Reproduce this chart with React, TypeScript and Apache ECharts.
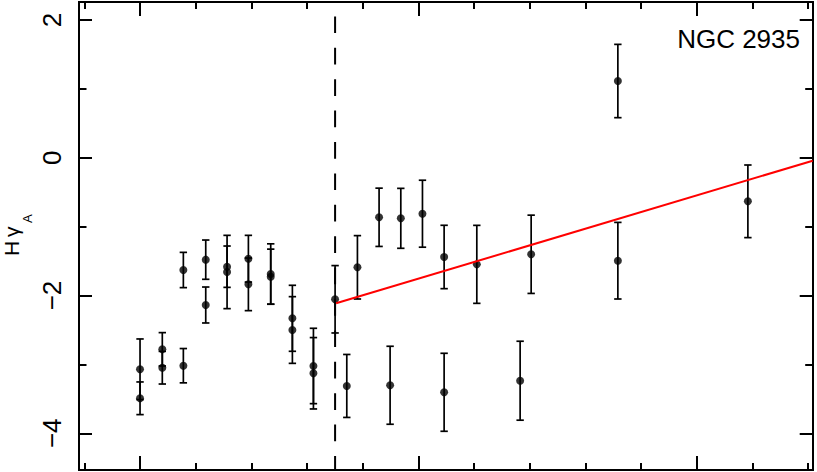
import React, { useEffect, useRef } from "react";
import * as echarts from "echarts";

// x positions (arbitrary radial units; major ticks every 5, minor every 1)
const X_VALUES = [
  0.0, 0.0, 0.4, 0.4, 0.778, 0.778, 1.18, 1.18, 1.563, 1.563, 1.946, 1.946,
  2.347, 2.347, 2.736, 2.736, 3.114, 3.114, 3.503, 3.713, 3.904, 4.293, 4.491,
  4.683, 5.072, 5.461, 5.461, 6.048, 6.826, 7.024, 8.581, 8.581, 10.916,
];
const Y_VALUES = [
  -3.071, -3.492, -2.781, -3.048, -3.019, -1.63, -1.48, -2.138, -1.582, -1.659,
  -1.466, -1.838, -1.688, -1.727, -2.331, -2.501, -3.023, -3.129, -2.055,
  -3.313, -1.591, -0.865, -3.303, -0.88, -0.813, -1.441, -3.405, -1.548,
  -3.237, -1.402, 1.113, -1.495, -0.633,
];
const Y_ERRORS = [
  0.44, 0.237, 0.242, 0.237, 0.249, 0.256, 0.285, 0.261, 0.3, 0.532, 0.339,
  0.382, 0.438, 0.4, 0.479, 0.484, 0.547, 0.518, 0.489, 0.457, 0.46, 0.423,
  0.566, 0.435, 0.486, 0.46, 0.566, 0.566, 0.573, 0.568, 0.532, 0.556, 0.527,
];

const FIT_X = [3.521, 12.08];
const FIT_Y = [-2.113, -0.044];
const DIVIDER_X = 3.503;

const X_MIN = -1.096;
const X_MAX = 12.08;
const Y_MIN = -4.533;
const Y_MAX = 2.26;

const X_MAJOR = [0, 5, 10];
const X_MINOR = [-1, 1, 2, 3, 4, 6, 7, 8, 9, 11, 12];
const Y_MAJOR = [-4, -2, 0, 2];
const Y_MINOR = [-3, -1, 1];

const TITLE = "NGC 2935";
const FONT = "Liberation Sans";

export default function App() {
  const ref = useRef<HTMLDivElement>(null);
  useEffect(() => {
    document.body.style.margin = "0";
    const chart = echarts.init(ref.current!, null, { renderer: "svg" });

    const axisLine = { show: true, onZero: false, lineStyle: { color: "#000", width: 2 } };
    const mkX = (position: string, vals: number[], len: number) => ({
      type: "value",
      position,
      min: X_MIN,
      max: X_MAX,
      axisLine,
      axisTick: { show: true, inside: true, length: len, customValues: vals, lineStyle: { color: "#000", width: 2 } },
      axisLabel: { show: false },
      splitLine: { show: false },
    });
    const mkY = (position: string, vals: number[], len: number, labels: boolean) => ({
      type: "value",
      position,
      min: Y_MIN,
      max: Y_MAX,
      axisLine,
      axisTick: { show: true, inside: true, length: len, customValues: vals, lineStyle: { color: "#000", width: 2 } },
      axisLabel: labels
        ? {
            show: true,
            customValues: vals,
            rotate: 90,
            margin: 14,
            fontSize: 26,
            fontFamily: FONT,
            color: "#000",
            formatter: (v: number) => (v < 0 ? "\u2212" + Math.abs(v) : String(v)),
          }
        : { show: false },
      splitLine: { show: false },
    });

    const errData = X_VALUES.map((x, i) => [x, Y_VALUES[i], Y_ERRORS[i]]);
    const ptData = X_VALUES.map((x, i) => [x, Y_VALUES[i]]);
    const ts = (text: string, size: number) => ({
      text,
      fontSize: size,
      fontFamily: FONT,
      fill: "#000",
      align: "left",
      verticalAlign: "middle",
    });

    chart.setOption({
      animation: false,
      grid: { left: 79, right: 4.3, top: 2, bottom: 2, containLabel: false },
      xAxis: [
        mkX("bottom", X_MAJOR, 14),
        mkX("bottom", X_MINOR, 7),
        mkX("top", X_MAJOR, 14),
        mkX("top", X_MINOR, 7),
      ],
      yAxis: [
        mkY("left", Y_MAJOR, 13, true),
        mkY("left", Y_MINOR, 7.5, false),
        mkY("right", Y_MAJOR, 13, false),
        mkY("right", Y_MINOR, 7.5, false),
      ],
      graphic: [
        {
          type: "text",
          x: 800,
          y: 26,
          style: { text: TITLE, fontSize: 26, fontFamily: FONT, fill: "#000", align: "right", verticalAlign: "top" },
        },
        {
          type: "group",
          x: 11.7,
          y: 255,
          rotation: Math.PI / 2,
          children: [
            { type: "text", x: -1, y: 0, style: ts("H", 21) },
            { type: "text", x: 18, y: 0, style: ts("\u03b3", 21) },
            { type: "text", x: 32, y: 15.8, style: ts("A", 13) },
          ],
        },
      ],
      series: [
        {
          type: "line",
          data: [
            [DIVIDER_X, Y_MAX],
            [DIVIDER_X, Y_MIN],
          ],
          symbol: "none",
          lineStyle: { color: "#000", width: 2, type: [16.7, 14.7], dashOffset: 16.7 },
          z: 1,
        },
        {
          type: "custom",
          data: errData,
          encode: { x: 0, y: 1 },
          z: 2,
          renderItem: (_p: any, api: any) => {
            const x = api.value(0);
            const y = api.value(1);
            const e = api.value(2);
            const t = api.coord([x, y + e]);
            const b = api.coord([x, y - e]);
            const h = 3.7;
            const st = { stroke: "#000", lineWidth: 1.7 };
            return {
              type: "group",
              children: [
                { type: "line", shape: { x1: t[0], y1: t[1], x2: b[0], y2: b[1] }, style: st },
                { type: "line", shape: { x1: t[0] - h, y1: t[1], x2: t[0] + h, y2: t[1] }, style: st },
                { type: "line", shape: { x1: b[0] - h, y1: b[1], x2: b[0] + h, y2: b[1] }, style: st },
              ],
            };
          },
        },
        {
          type: "scatter",
          data: ptData,
          symbol: "circle",
          symbolSize: 8,
          itemStyle: { color: "#000" },
          z: 3,
        },
        {
          type: "line",
          data: FIT_X.map((x, i) => [x, FIT_Y[i]]),
          symbol: "none",
          lineStyle: { color: "#ff0000", width: 2 },
          z: 4,
        },
      ],
    });
    return () => chart.dispose();
  }, []);
  return <div ref={ref} style={{ width: 817, height: 472 }} />;
}
